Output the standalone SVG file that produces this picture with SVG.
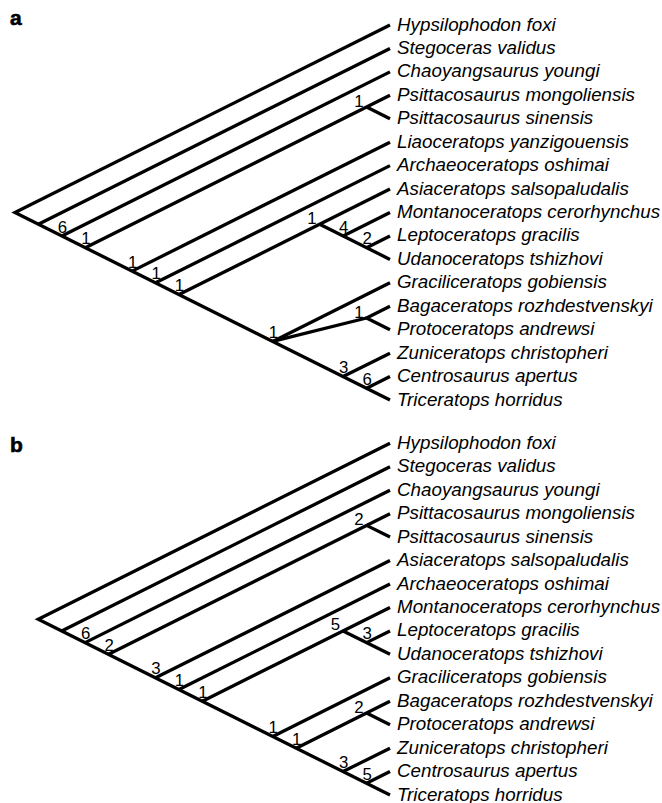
<svg xmlns="http://www.w3.org/2000/svg" width="662" height="803" viewBox="0 0 662 803">
<style>
.br{fill:none;stroke:#000;stroke-width:3.3;stroke-linecap:butt;stroke-linejoin:miter}
.tx{font-family:"Liberation Sans",Arial,sans-serif;font-style:italic;font-size:18.8px;fill:#000}
.nm{font-family:"Liberation Sans",Arial,sans-serif;font-size:16.8px;fill:#000;text-anchor:middle}
.nu{font-family:"Liberation Sans",Arial,sans-serif;font-size:16.8px;fill:#000;text-anchor:end}
.pl{font-family:"Liberation Sans",Arial,sans-serif;font-weight:900;font-size:21px;fill:#000;stroke:#000;stroke-width:0.6}
</style>
<rect width="662" height="803" fill="#fff"/>
<text class="pl" x="10" y="25">a</text>
<text class="pl" x="10" y="452">b</text>
<g id="connectors-a" class="br">
<path d="M390,25 L14.96,212.52 L390,400.04"/>
<path d="M38.4,224.24 L390,48.44"/>
<path d="M61.84,235.96 L390,71.88"/>
<path d="M85.28,247.68 L390,95.32"/>
<path d="M366.56,107.04 L390,118.76"/>
<path d="M132.16,271.12 L390,142.2"/>
<path d="M155.6,282.84 L390,165.64"/>
<path d="M179.04,294.56 L390,189.08"/>
<path d="M319.68,224.24 L390,259.4"/>
<path d="M343.12,235.96 L390,212.52"/>
<path d="M366.56,247.68 L390,235.96"/>
<path d="M272.8,341.44 L390,282.84"/>
<path d="M272.8,341.44 L366.56,318"/>
<path d="M390,306.28 L366.56,318 L390,329.72"/>
<path d="M343.12,376.6 L390,353.16"/>
<path d="M366.56,388.32 L390,376.6"/>
</g>
<g id="connectors-b" class="br">
<path d="M390,443.3 L38.25,619.18 L390,795.05"/>
<path d="M61.7,630.9 L390,466.75"/>
<path d="M85.15,642.63 L390,490.2"/>
<path d="M108.6,654.35 L390,513.65"/>
<path d="M366.55,525.38 L390,537.1"/>
<path d="M155.5,677.8 L390,560.55"/>
<path d="M178.95,689.53 L390,584"/>
<path d="M202.4,701.25 L390,607.45"/>
<path d="M343.1,630.9 L390,654.35"/>
<path d="M366.55,642.63 L390,630.9"/>
<path d="M272.75,736.43 L390,677.8"/>
<path d="M296.2,748.15 L390,701.25"/>
<path d="M366.55,712.98 L390,724.7"/>
<path d="M343.1,771.6 L390,748.15"/>
<path d="M366.55,783.33 L390,771.6"/>
</g>
<g id="tips-a">
<g id="a-hypsilophodon"><text class="tx" x="397" y="30.5">Hypsilophodon foxi</text></g>
<g id="a-stegoceras"><text class="tx" x="397" y="53.94">Stegoceras validus</text></g>
<g id="a-chaoyangsaurus"><text class="tx" x="397" y="77.38">Chaoyangsaurus youngi</text></g>
<g id="a-psitt-mong"><text class="tx" x="397" y="100.82">Psittacosaurus mongoliensis</text></g>
<g id="a-psitt-sin"><text class="tx" x="397" y="124.26">Psittacosaurus sinensis</text></g>
<g id="a-liaoceratops"><text class="tx" x="397" y="147.7">Liaoceratops yanzigouensis</text></g>
<g id="a-archaeoceratops"><text class="tx" x="397" y="171.14">Archaeoceratops oshimai</text></g>
<g id="a-asiaceratops"><text class="tx" x="397" y="194.58">Asiaceratops salsopaludalis</text></g>
<g id="a-montanoceratops"><text class="tx" x="397" y="218.02">Montanoceratops cerorhynchus</text></g>
<g id="a-leptoceratops"><text class="tx" x="397" y="241.46">Leptoceratops gracilis</text></g>
<g id="a-udanoceratops"><text class="tx" x="397" y="264.9">Udanoceratops tshizhovi</text></g>
<g id="a-graciliceratops"><text class="tx" x="397" y="288.34">Graciliceratops gobiensis</text></g>
<g id="a-bagaceratops"><text class="tx" x="397" y="311.78">Bagaceratops rozhdestvenskyi</text></g>
<g id="a-protoceratops"><text class="tx" x="397" y="335.22">Protoceratops andrewsi</text></g>
<g id="a-zuniceratops"><text class="tx" x="397" y="358.66">Zuniceratops christopheri</text></g>
<g id="a-centrosaurus"><text class="tx" x="397" y="382.1">Centrosaurus apertus</text></g>
<g id="a-triceratops"><text class="tx" x="397" y="405.54">Triceratops horridus</text></g>
</g>
<g id="nodes-a">
<g id="a-n2"><text class="nm" x="62.3" y="232.5">6</text></g>
<g id="a-n3"><text class="nm" x="85.8" y="244.2">1</text></g>
<g id="a-n5"><text class="nm" x="132.7" y="267.6">1</text></g>
<g id="a-n6"><text class="nm" x="156.1" y="279.3">1</text></g>
<g id="a-n7"><text class="nm" x="179.5" y="291.1">1</text></g>
<g id="a-n11"><text class="nm" x="273.3" y="337.9">1</text></g>
<g id="a-psitt"><text class="nu" x="363.6" y="106.5">1</text></g>
<g id="a-n7-10"><text class="nu" x="316.7" y="223.7">1</text></g>
<g id="a-n8-10"><text class="nm" x="343.6" y="232.5">4</text></g>
<g id="a-n9-10"><text class="nm" x="367.1" y="244.2">2</text></g>
<g id="a-n12-13"><text class="nu" x="363.6" y="317.5">1</text></g>
<g id="a-n14-16"><text class="nm" x="343.6" y="373.1">3</text></g>
<g id="a-n15-16"><text class="nm" x="367.1" y="384.8">6</text></g>
</g>
<g id="tips-b">
<g id="b-hypsilophodon"><text class="tx" x="397" y="448.8">Hypsilophodon foxi</text></g>
<g id="b-stegoceras"><text class="tx" x="397" y="472.25">Stegoceras validus</text></g>
<g id="b-chaoyangsaurus"><text class="tx" x="397" y="495.7">Chaoyangsaurus youngi</text></g>
<g id="b-psitt-mong"><text class="tx" x="397" y="519.15">Psittacosaurus mongoliensis</text></g>
<g id="b-psitt-sin"><text class="tx" x="397" y="542.6">Psittacosaurus sinensis</text></g>
<g id="b-asiaceratops"><text class="tx" x="397" y="566.05">Asiaceratops salsopaludalis</text></g>
<g id="b-archaeoceratops"><text class="tx" x="397" y="589.5">Archaeoceratops oshimai</text></g>
<g id="b-montanoceratops"><text class="tx" x="397" y="612.95">Montanoceratops cerorhynchus</text></g>
<g id="b-leptoceratops"><text class="tx" x="397" y="636.4">Leptoceratops gracilis</text></g>
<g id="b-udanoceratops"><text class="tx" x="397" y="659.85">Udanoceratops tshizhovi</text></g>
<g id="b-graciliceratops"><text class="tx" x="397" y="683.3">Graciliceratops gobiensis</text></g>
<g id="b-bagaceratops"><text class="tx" x="397" y="706.75">Bagaceratops rozhdestvenskyi</text></g>
<g id="b-protoceratops"><text class="tx" x="397" y="730.2">Protoceratops andrewsi</text></g>
<g id="b-zuniceratops"><text class="tx" x="397" y="753.65">Zuniceratops christopheri</text></g>
<g id="b-centrosaurus"><text class="tx" x="397" y="777.1">Centrosaurus apertus</text></g>
<g id="b-triceratops"><text class="tx" x="397" y="800.55">Triceratops horridus</text></g>
</g>
<g id="nodes-b">
<g id="b-n2"><text class="nm" x="85.65" y="639.1">6</text></g>
<g id="b-n3"><text class="nm" x="109.1" y="650.9">2</text></g>
<g id="b-n5"><text class="nm" x="156" y="674.3">3</text></g>
<g id="b-n6"><text class="nm" x="179.45" y="686">1</text></g>
<g id="b-n7"><text class="nm" x="202.9" y="697.8">1</text></g>
<g id="b-n10"><text class="nm" x="273.25" y="732.9">1</text></g>
<g id="b-n11"><text class="nm" x="296.7" y="744.7">1</text></g>
<g id="b-psitt"><text class="nu" x="363.55" y="524.9">2</text></g>
<g id="b-n7-9"><text class="nu" x="340.1" y="630.4">5</text></g>
<g id="b-n8-9"><text class="nm" x="367.05" y="639.1">3</text></g>
<g id="b-n11-12"><text class="nu" x="363.55" y="712.5">2</text></g>
<g id="b-n13-15"><text class="nm" x="343.6" y="768.1">3</text></g>
<g id="b-n14-15"><text class="nm" x="367.05" y="779.8">5</text></g>
</g>
</svg>
